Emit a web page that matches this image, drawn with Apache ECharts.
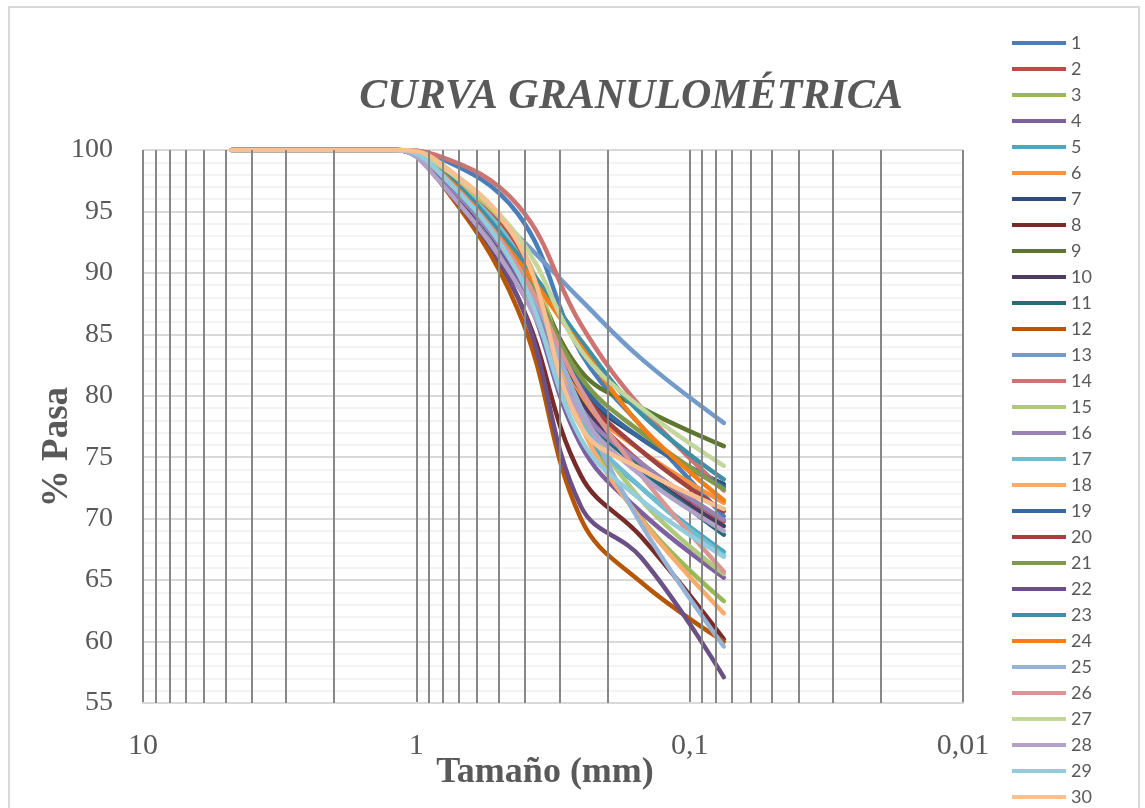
<!DOCTYPE html>
<html><head><meta charset="utf-8">
<script src="https://cdn.jsdelivr.net/npm/echarts@6/dist/echarts.min.js"></script>
<style>html,body{margin:0;padding:0;background:#fff}#c{width:1145px;height:808px}</style>
</head><body><div id="c"></div>
<script>
// Sieve sizes (mm)
const sizes = [4.75, 2.0, 1.18, 0.85, 0.425, 0.25, 0.15, 0.075];
// % passing for each sample
const c1  = [100, 100, 100, 99.5, 94.8, 83.5, 77.5, 70.2];
const c2  = [100, 100, 100, 99.0, 92.0, 80.0, 74.5, 69.8];
const c3  = [100, 100, 100, 98.6, 91.5, 78.5, 70.0, 63.3];
const c4  = [100, 100, 100, 98.2, 89.5, 76.0, 70.5, 65.2];
const c5  = [100, 100, 100, 98.5, 90.5, 77.5, 72.5, 67.3];
const c6  = [100, 100, 100, 98.8, 91.5, 80.0, 75.5, 71.3];
const c7  = [100, 100, 100, 98.3, 90.0, 80.5, 76.5, 72.8];
const c8  = [100, 100, 100, 98.0, 88.0, 73.5, 68.5, 60.2];
const c9  = [100, 100, 100, 98.7, 91.5, 82.0, 79.0, 75.9];
const c10 = [100, 100, 100, 98.0, 89.0, 79.5, 74.0, 69.4];
const c11 = [100, 100, 100, 98.5, 91.0, 79.0, 74.0, 68.7];
const c12 = [100, 100, 100, 97.9, 87.0, 70.0, 64.8, 60.0];
const c13 = [100, 100, 100, 99.2, 93.0, 87.8, 83.0, 77.8];
const c14 = [100, 100, 100, 99.6, 95.5, 85.8, 79.0, 72.3];
const c15 = [100, 100, 100, 98.7, 92.5, 79.0, 71.5, 65.5];
const c16 = [100, 100, 100, 98.2, 90.0, 79.0, 74.5, 69.9];
const c17 = [100, 100, 100, 98.6, 91.5, 78.0, 72.5, 67.0];
const c18 = [100, 100, 100, 98.9, 92.5, 77.6, 69.9, 62.3];
const c19 = [100, 100, 100, 98.4, 90.5, 81.0, 76.5, 72.6];
const c20 = [100, 100, 100, 98.7, 91.0, 80.5, 75.5, 70.6];
const c21 = [100, 100, 100, 98.5, 91.0, 81.5, 77.0, 72.4];
const c22 = [100, 100, 100, 97.9, 88.0, 71.0, 66.8, 57.1];
const c23 = [100, 100, 100, 98.8, 91.5, 84.5, 78.5, 73.2];
const c24 = [100, 100, 100, 98.6, 91.0, 84.0, 77.5, 71.5];
const c25 = [100, 100, 100, 98.4, 90.5, 79.0, 69.5, 59.6];
const c26 = [100, 100, 100, 98.5, 90.5, 80.5, 73.5, 65.7];
const c27 = [100, 100, 100, 99.0, 93.0, 83.7, 79.0, 74.3];
const c28 = [100, 100, 100, 97.8, 89.0, 78.5, 73.5, 69.0];
const c29 = [100, 100, 100, 98.5, 90.0, 76.5, 71.5, 66.9];
const c30 = [100, 100, 100, 99.2, 92.5, 77.5, 74.0, 70.8];
const curves = [c1,c2,c3,c4,c5,c6,c7,c8,c9,c10,c11,c12,c13,c14,c15,c16,c17,c18,c19,c20,c21,c22,c23,c24,c25,c26,c27,c28,c29,c30];
const names = curves.map((_, i) => String(i + 1));
const colors = ['#4A7EBB','#BE4B48','#98B954','#7D60A0','#46AAC5','#F69240','#2C4D75','#772C2A','#5F7530','#4D3B62',
  '#276A7C','#B65708','#729ACA','#CD7371','#AFC97A','#9983B5','#6FBDD1','#F9AB6B','#3A679C','#9F4240',
  '#7F9A48','#6A5084','#3F8FA6','#F47F17','#95B3D7','#D99694','#C3D69B','#B3A2C7','#93CDDD','#FAC090'];
// minor log grid positions
const minorX = [9,8,7,6,5,4,3,2, 0.9,0.8,0.7,0.6,0.5,0.4,0.3,0.2, 0.09,0.08,0.07,0.06,0.05,0.04,0.03,0.02];

const chart = echarts.init(document.getElementById('c'), null, {renderer: 'canvas'});
const serif = '"Liberation Serif", "Times New Roman", serif';
const series = curves.map((c, i) => ({
  name: names[i], type: 'line', z: 3, smooth: 0.4, symbol: 'none', showSymbol: false,
  data: sizes.map((s, j) => [s, c[j]]),
  lineStyle: {width: 4.5, color: colors[i], cap: 'round', join: 'round'}, itemStyle: {color: colors[i]},
  emphasis: {disabled: true}
}));
series.unshift({
  name: 'grid', type: 'line', z: 1, data: [], silent: true,
  markLine: {silent: true, symbol: ['none', 'none'], label: {show: false}, animation: false,
    lineStyle: {color: '#878787', width: 2, type: 'solid'},
    emphasis: {disabled: true},
    data: minorX.map(v => ({xAxis: v}))}
});
chart.setOption({
  animation: false,
  backgroundColor: '#fff',
  color: colors,
  grid: {left: 143, right: 182, top: 150, bottom: 105},
  graphic: [
    {type: 'rect', shape: {x: 9, y: 7, width: 1130, height: 830}, style: {fill: 'none', stroke: '#d9d9d9', lineWidth: 2}},
    {type: 'text', x: 631, y: 97, style: {text: 'CURVA GRANULOMÉTRICA', font: 'italic bold 42px ' + serif, fill: '#595959', align: 'center', verticalAlign: 'middle'}},
    {type: 'text', x: 545, y: 773, style: {text: 'Tamaño (mm)', font: 'bold 36px ' + serif, fill: '#595959', align: 'center', verticalAlign: 'middle'}},
    {type: 'text', x: 57, y: 447, rotation: Math.PI / 2, style: {text: '% Pasa', font: 'bold 37px ' + serif, fill: '#595959', align: 'center', verticalAlign: 'middle'}}
  ],
  legend: {
    data: names, orient: 'vertical', left: 1012, top: 33, height: 900, padding: 0,
    itemWidth: 54, itemHeight: 4, itemGap: 6, icon: 'rect',
    textStyle: {color: '#595959', fontSize: 18, lineHeight: 20, fontFamily: 'Lato, "Liberation Sans", Arial, sans-serif'}
  },
  xAxis: {
    type: 'log', logBase: 10, min: 0.01, max: 10, inverse: true,
    axisLine: {show: true, lineStyle: {color: '#d9d9d9', width: 2}},
    axisTick: {show: false},
    axisLabel: {fontFamily: serif, fontSize: 30, color: '#595959', margin: 28,
      formatter: v => String(+(+v).toPrecision(3)).replace('.', ',')},
    splitLine: {show: true, lineStyle: {color: '#878787', width: 2}}
  },
  yAxis: {
    type: 'value', min: 55, max: 100, interval: 5,
    axisLine: {show: false}, axisTick: {show: false},
    axisLabel: {fontFamily: serif, fontSize: 28, color: '#595959', margin: 30},
    splitLine: {show: true, lineStyle: {color: '#d9d9d9', width: 2}},
    minorTick: {show: false, splitNumber: 5},
    minorSplitLine: {show: true, lineStyle: {color: '#efefef', width: 1.5}}
  },
  series: series
});
</script></body></html>
